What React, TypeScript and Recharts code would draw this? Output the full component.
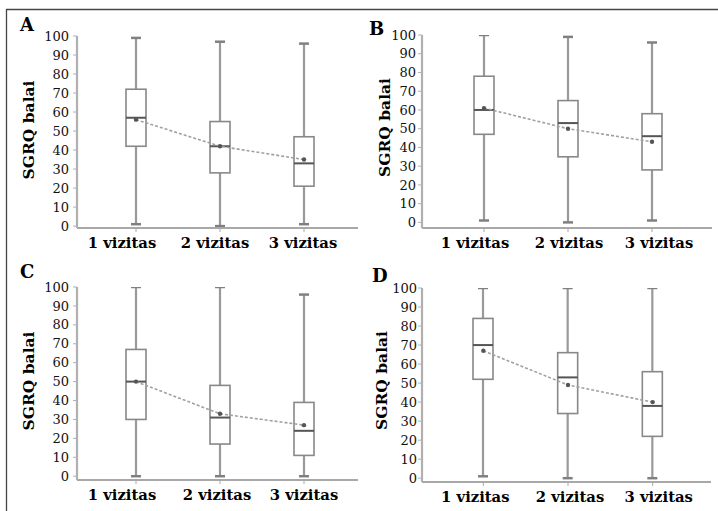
import React from 'react';
import { ComposedChart, Bar, Line, XAxis, YAxis } from 'recharts';

// ---- data ----
const visits = ['1 vizitas', '2 vizitas', '3 vizitas'];
const yTicks = [0, 10, 20, 30, 40, 50, 60, 70, 80, 90, 100];
const yTitle = 'SGRQ balai';

const aMin = [1, 0, 1];
const aQ1 = [42, 28, 21];
const aMedian = [57, 42, 33];
const aQ3 = [72, 55, 47];
const aMax = [99, 97, 96];
const aMean = [56, 42, 35];

const bMin = [1, 0, 1];
const bQ1 = [47, 35, 28];
const bMedian = [60, 53, 46];
const bQ3 = [78, 65, 58];
const bMax = [100, 99, 96];
const bMean = [61, 50, 43];

const cMin = [0, 0, 0];
const cQ1 = [30, 17, 11];
const cMedian = [50, 31, 24];
const cQ3 = [67, 48, 39];
const cMax = [100, 100, 96];
const cMean = [50, 33, 27];

const dMin = [1, 0, 0];
const dQ1 = [52, 34, 22];
const dMedian = [70, 53, 38];
const dQ3 = [84, 66, 56];
const dMax = [100, 100, 100];
const dMean = [67, 49, 40];

const build = (min: number[], q1: number[], med: number[], q3: number[], max: number[], mean: number[]) =>
  visits.map((v, i) => ({ visit: v, min: min[i], q1: q1[i], median: med[i], q3: q3[i], max: max[i], mean: mean[i] }));

const panels = [
  { letter: 'A', data: build(aMin, aQ1, aMedian, aQ3, aMax, aMean),
    left: 0, top: 0, w: 359, h: 255, mTop: 36, mRight: 1, yW: 77, xH: 27, padL: 17, padR: 12, yLo: -1, tm: 4,
    labX: 28, labDy: -2, shifts: [-14, -5, -1], lx: 20, ly: 31 },
  { letter: 'B', data: build(bMin, bQ1, bMedian, bQ3, bMax, bMean),
    left: 359, top: 0, w: 359, h: 255, mTop: 35, mRight: 6, yW: 63, xH: 27, padL: 20, padR: 18, yLo: -3, tm: 2,
    labX: 25, labDy: -4, shifts: [-9, 1, 7], lx: 369, ly: 35 },
  { letter: 'C', data: build(cMin, cQ1, cMedian, cQ3, cMax, cMean),
    left: 0, top: 255, w: 359, h: 256, mTop: 32, mRight: 1, yW: 77, xH: 31, padL: 17, padR: 12, yLo: -2, tm: 4,
    labX: 28, labDy: -2.5, shifts: [-14, -3, 0], lx: 20, ly: 278 },
  { letter: 'D', data: build(dMin, dQ1, dMedian, dQ3, dMax, dMean),
    left: 359, top: 255, w: 359, h: 256, mTop: 33, mRight: 7, yW: 63, xH: 29, padL: 19, padR: 16, yLo: -2, tm: 1,
    labX: 22, labDy: -4.5, shifts: [-8, 2, 6], lx: 372, ly: 282 },
];

const SERIF = 'DejaVu Serif';

const BoxShape = (props: any) => {
  const { x, y, width, height, payload } = props;
  if (x == null || y == null || !payload) return null;
  const top = Math.min(y, y + height);
  const bot = Math.max(y, y + height);
  const lo = payload.min;
  const hi = payload.max;
  const toY = (v: number) => bot - ((v - lo) / (hi - lo)) * (bot - top);
  const cx = x + width / 2;
  const yQ1 = toY(payload.q1);
  const yQ3 = toY(payload.q3);
  const yMed = toY(payload.median);
  const cap = 5;
  return (
    <g>
      <line x1={cx} x2={cx} y1={top} y2={yQ3} stroke="#999" strokeWidth={2.2} />
      <line x1={cx} x2={cx} y1={yQ1} y2={bot} stroke="#999" strokeWidth={2.2} />
      <line x1={cx - cap} x2={cx + cap} y1={top} y2={top} stroke="#808080" strokeWidth={2.5} />
      <line x1={cx - cap} x2={cx + cap} y1={bot} y2={bot} stroke="#808080" strokeWidth={2.5} />
      <rect x={x} y={yQ3} width={width} height={yQ1 - yQ3} fill="#fff" stroke="#888" strokeWidth={1.6} />
      <line x1={x} x2={x + width} y1={yMed} y2={yMed} stroke="#555" strokeWidth={2} />
    </g>
  );
};

const XTick = (props: any) => {
  const { x, y, payload, index, shifts } = props;
  const dx = shifts && shifts[index] != null ? shifts[index] : 0;
  return (
    <text x={x + dx} y={y + 14} textAnchor="middle" fontFamily={SERIF} fontWeight="bold" fontSize={14.8} fill="#000">
      {payload.value}
    </text>
  );
};

const makeYLabel = (labX: number, labDy: number) => (props: any) => {
  const vb = props.viewBox || {};
  const cx = (vb.x || 0) + labX;
  const cy = (vb.y || 0) + (vb.height || 0) / 2 + labDy;
  return (
    <text x={cx} y={cy} transform={`rotate(-90 ${cx} ${cy})`} textAnchor="middle" dominantBaseline="central"
      fontFamily={SERIF} fontWeight="bold" fontSize={15.5} fill="#000">
      {yTitle}
    </text>
  );
};

const Panel = ({ p }: { p: any }) => (
  <div style={{ position: 'absolute', left: p.left, top: p.top, width: p.w, height: p.h }}>
    <ComposedChart width={p.w} height={p.h} data={p.data}
      margin={{ top: p.mTop, right: p.mRight, bottom: 0, left: 0 }}>
      <XAxis dataKey="visit" type="category" height={p.xH} padding={{ left: p.padL, right: p.padR }}
        axisLine={{ stroke: '#a8a8a8', strokeWidth: 1.8 }} tickLine={{ stroke: '#a8a8a8' }} tickSize={4} tickMargin={2}
        tick={<XTick shifts={p.shifts} />} interval={0} />
      <YAxis type="number" domain={[p.yLo, 100]} ticks={yTicks} width={p.yW} interval={0}
        axisLine={{ stroke: '#b0b0b0', strokeWidth: 2.2 }} tickLine={{ stroke: '#b0b0b0' }} tickSize={4} tickMargin={p.tm}
        tick={{ fontSize: 13, fill: '#111', fontFamily: SERIF }}
        label={makeYLabel(p.labX, p.labDy)} allowDataOverflow />
      <Bar dataKey={(d: any) => [d.min, d.max]} barSize={20} shape={<BoxShape />} isAnimationActive={false} />
      <Line dataKey="mean" type="linear" stroke="#a0a0a0" strokeWidth={1.6} strokeDasharray="3 2"
        dot={{ r: 2.2, fill: '#555', stroke: 'none' }} activeDot={false} isAnimationActive={false} />
    </ComposedChart>
  </div>
);

export default function App() {
  return (
    <div style={{ position: 'absolute', left: 0, top: 0, width: 718, height: 511, background: '#fff', overflow: 'hidden' }}>
      {panels.map((p) => (
        <Panel key={p.letter} p={p} />
      ))}
      <svg width={718} height={511} style={{ position: 'absolute', left: 0, top: 0, pointerEvents: 'none' }}>
        <path d="M6.5,511 V9.5 H718" fill="none" stroke="#444" strokeWidth={1.3} />
        {panels.map((p) => (
          <text key={p.letter} x={p.lx} y={p.ly} fontFamily={SERIF} fontWeight="bold" fontSize={18} fill="#000">
            {p.letter}
          </text>
        ))}
      </svg>
    </div>
  );
}
